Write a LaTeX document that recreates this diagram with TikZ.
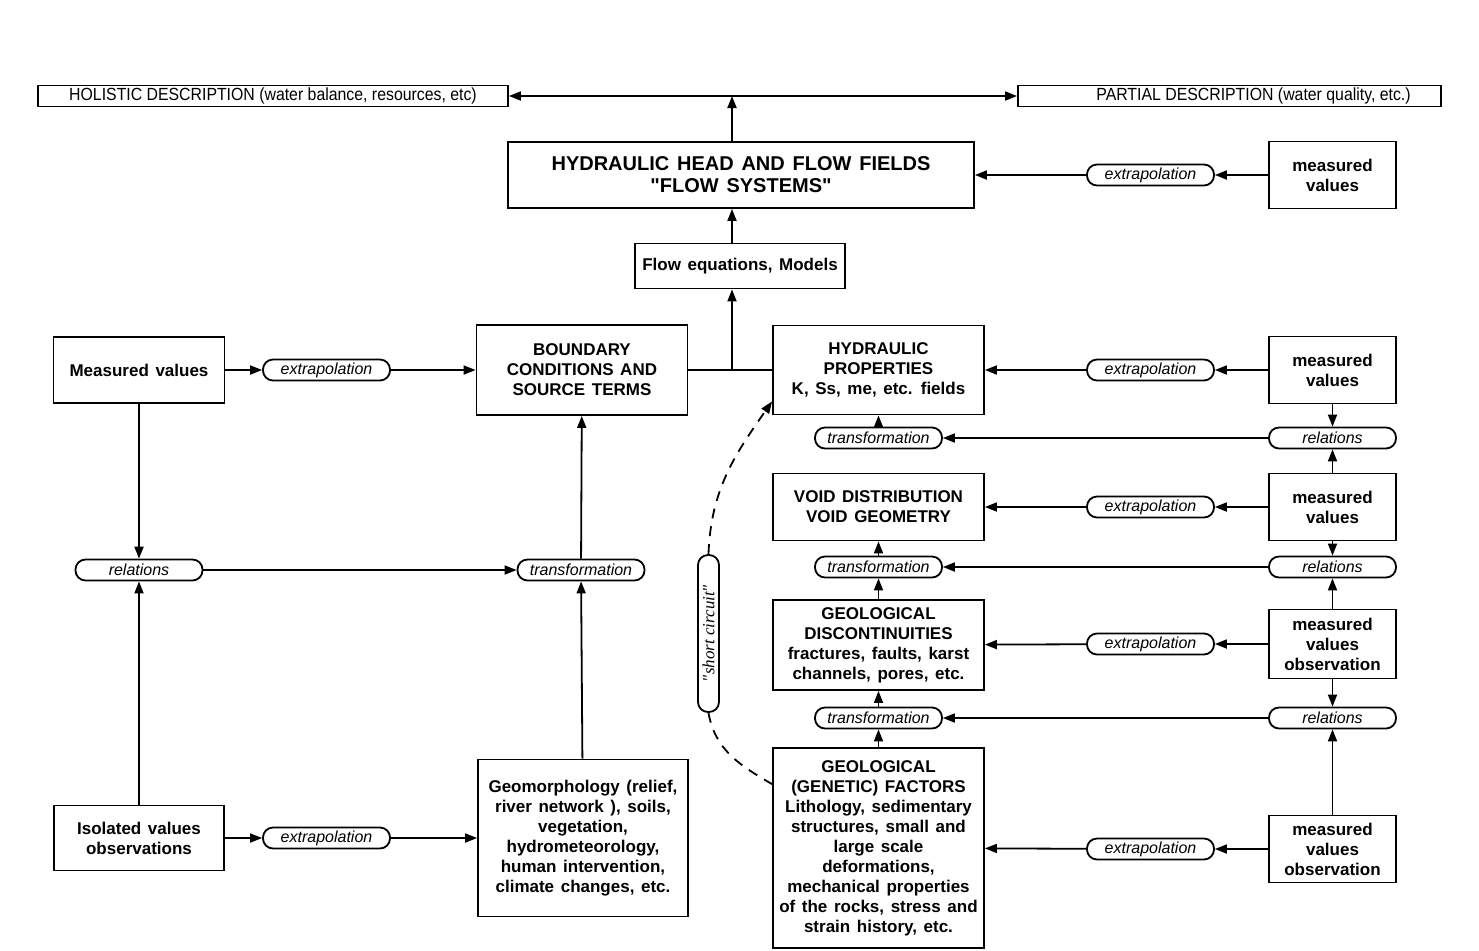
\documentclass[tikz,border=0pt]{standalone}
\usepackage{fontspec}
\setmainfont[WordSpace=1.4]{Liberation Sans}
\newfontfamily\narrowfont[FakeStretch=0.9]{Liberation Sans}
\newfontfamily\handfont{Liberation Serif}
\usetikzlibrary{arrows.meta}
\newcommand\bxfont{\fontsize{8.5}{10}\selectfont\bfseries}
\newcommand\plfont{\fontsize{8}{9}\selectfont\itshape}

\begin{document}
\begin{tikzpicture}[x=0.5pt,y=-0.5pt,line width=0.9pt,
      box/.style={draw,align=center,inner sep=0pt,font=\bxfont},
      desc/.style={draw,inner sep=0pt,minimum height=10.5pt,font=\narrowfont\fontsize{8.8}{10}\selectfont},
      pill/.style={draw,rounded corners=5pt,minimum width=63.5pt,minimum height=10.5pt,inner sep=0pt,font=\plfont},
      mv/.style={box,minimum width=63.5pt,minimum height=33.5pt},
      geo/.style={box,minimum width=105.5pt},
      arr/.style={-{Triangle[length=6pt,width=4.5pt]}}]
    \useasboundingbox (0,0) rectangle (1479,950);
    % top descriptions
    \node[desc,minimum width=235pt] (holistic) at (273,96) {HOLISTIC DESCRIPTION (water balance, resources, etc)};
    \node[desc,minimum width=211.5pt] (partial) at (1229.5,96) {\hspace{24pt}PARTIAL DESCRIPTION (water quality, etc.)};
    \coordinate (top) at (732,96);
    % centre column
    \node[box,minimum width=233pt,minimum height=33pt,font=\fontsize{10}{11}\selectfont\bfseries] (hhead) at (741,175) {HYDRAULIC HEAD AND FLOW FIELDS\\\textquotedbl FLOW SYSTEMS\textquotedbl};
    \node[box,minimum width=105pt,minimum height=22.5pt] (floweq) at (740,266) {Flow equations, Models};
    \node[geo,minimum height=45pt] (bc) at (582,370) {BOUNDARY\\CONDITIONS AND\\SOURCE TERMS};
    \node[geo,minimum height=44.5pt] (hp) at (878.5,370) {HYDRAULIC\\PROPERTIES\\K, Ss, me, etc. fields};
    \coordinate (junc) at (732,370);
    \node[pill] (t1) at (878.5,438) {transformation};
    \node[geo,minimum height=33.5pt] (void) at (878.5,507) {VOID DISTRIBUTION\\VOID GEOMETRY};
    \node[pill] (t2) at (878.5,567) {transformation};
    \node[geo,minimum height=45pt] (gdisc) at (878.5,645) {GEOLOGICAL\\DISCONTINUITIES\\fractures, faults, karst\\channels, pores, etc.};
    \node[pill] (t3) at (878.5,718) {transformation};
    \node[geo,minimum height=100pt] (gfac) at (878.5,848) {GEOLOGICAL\\(GENETIC) FACTORS\\Lithology, sedimentary\\structures, small and\\large scale\\deformations,\\mechanical properties\\of the rocks, stress and\\strain history, etc.};
    % right column
    \node[mv] (mv1) at (1332.5,175) {measured\\values};
    \node[pill] (x1) at (1150.5,175) {extrapolation};
    \node[mv] (mv2) at (1332.5,370) {measured\\values};
    \node[pill] (x2) at (1150.5,370) {extrapolation};
    \node[pill] (r1) at (1332.5,438) {relations};
    \node[mv] (mv3) at (1332.5,507) {measured\\values};
    \node[pill] (x3) at (1150.5,507) {extrapolation};
    \node[pill] (r2) at (1332.5,567) {relations};
    \node[mv,minimum height=34.5pt] (mv4) at (1332.5,644) {measured\\values\\observation};
    \node[pill] (x4) at (1150.5,644) {extrapolation};
    \node[pill] (r3) at (1332.5,718) {relations};
    \node[mv] (mv5) at (1332.5,849) {measured\\values\\observation};
    \node[pill] (x5) at (1150.5,849) {extrapolation};
    % left part
    \node[box,minimum width=85.5pt,minimum height=33pt] (mvl) at (139,370) {Measured values};
    \node[pill] (xl) at (326.5,370) {extrapolation};
    \node[pill] (rell) at (139,570) {relations};
    \node[pill] (trl) at (581,570) {transformation};
    \node[box,minimum width=85pt,minimum height=32.5pt] (iso) at (139,838) {Isolated values\\observations};
    \node[pill] (xb) at (326.5,838) {extrapolation};
    \node[box,minimum width=105pt,minimum height=78.5pt] (geom) at (583,838) {Geomorphology (relief,\\river network ), soils,\\vegetation,\\hydrometeorology,\\human intervention,\\climate changes, etc.};
    \node[draw,rounded corners=5pt,rotate=90,minimum width=78.5pt,minimum height=10.5pt,inner sep=0pt,
      font=\handfont\fontsize{8.5}{9}\selectfont\itshape] (sc) at (708.5,633.5) {\textquotedbl short circuit\textquotedbl};
    % connectors
    \draw[{Triangle[length=6pt,width=4.5pt]}-{Triangle[length=6pt,width=4.5pt]}] (holistic.east) -- (holistic.east -| partial.west);
    \draw[arr] (top |- hhead.north) -- (top);
    \draw[arr] (top |- floweq.north) -- (top |- hhead.south);
    \draw (bc) -- (hp);
    \draw[arr] (junc) -- (junc |- floweq.south);
    \foreach \a/\b in {mv1/x1,x1/hhead,mv2/x2,x2/hp,mv3/x3,x3/void,mv4/x4,x4/gdisc,mv5/x5,x5/gfac,
        mv2/r1,mv3/r1,r1/t1,t1/hp,mv3/r2,mv4/r2,r2/t2,t2/void,gdisc/t2,mv4/r3,mv5/r3,r3/t3,t3/gdisc,gfac/t3,
        mvl/xl,xl/bc,iso/xb,xb/geom,mvl/rell,iso/rell,rell/trl,trl/bc,geom/trl}{
      \draw[arr] (\a)--(\b);}
    \draw[arr,dashed,dash pattern=on 5pt off 4pt] (sc.east) to[out=88,in=-125] ([yshift=7pt]hp.south west);
    \draw[dashed,dash pattern=on 5pt off 4pt] (sc.west) to[out=-80,in=150] ([yshift=-18.5pt]gfac.north west);
  \end{tikzpicture}
\end{document}
